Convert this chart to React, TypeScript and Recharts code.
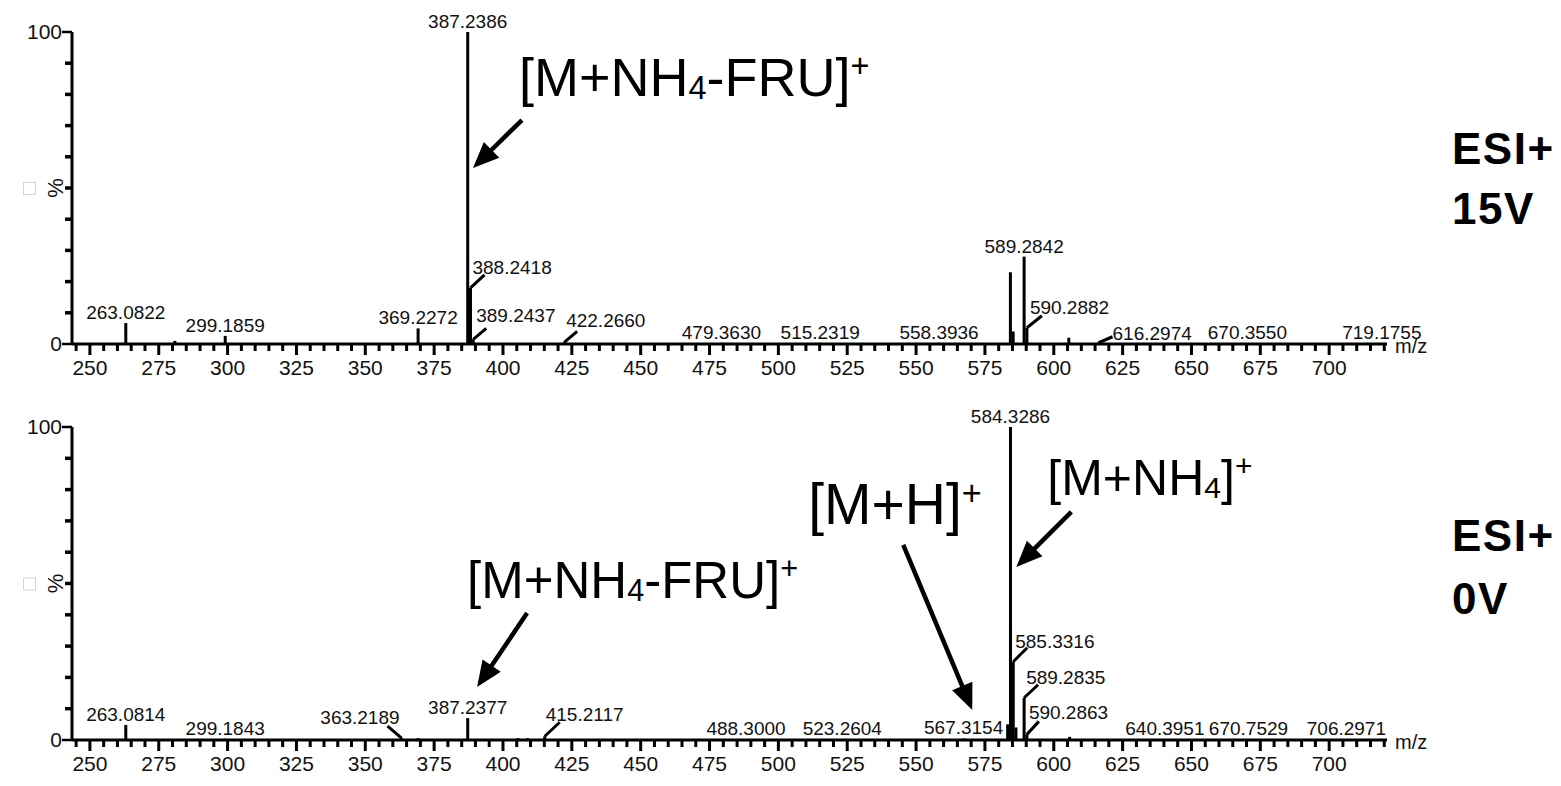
import { ComposedChart, Bar, XAxis, YAxis, LabelList, ReferenceDot } from "recharts";

/* ── shared axis setup ── */
const FONT = '"Liberation Sans", Arial, Helvetica, sans-serif';
const mzDomain = [243.5, 721];
const majorTicks = [250, 275, 300, 325, 350, 375, 400, 425, 450, 475, 500, 525, 550, 575, 600, 625, 650, 675, 700];
const xTicks: number[] = [];
for (let v = 245; v <= 720; v += 5) xTicks.push(v);
const yTicks = [0, 10, 20, 30, 40, 50, 60, 70, 80, 90, 100];
const yLabelled = [0, 100];

/* ── ESI+ 15V spectrum ── */
const mz15V = [263.0822, 280.9, 299.1859, 369.2272, 387.2386, 388.2418, 389.2437, 422.266, 479.363, 515.2319, 558.3936, 584.3, 585.3, 589.2842, 590.2882, 605.5, 616.2974, 670.355, 719.1755];
const int15V = [6.7, 1.0, 2.6, 5.0, 100, 18, 1.5, 0.5, 0.4, 0.4, 0.4, 23, 4, 28, 5.2, 2, 0.4, 0.3, 0.3];
const lbl15V = ["263.0822", "", "299.1859", "369.2272", "387.2386", "388.2418", "389.2437", "422.2660", "479.3630", "515.2319", "558.3936", "", "", "589.2842", "590.2882", "", "616.2974", "670.3550", "719.1755"];

/* ── ESI+ 0V spectrum ── */
const mz0V = [263.0814, 299.1843, 363.2189, 369.2, 387.2377, 405.5, 409.0, 415.2117, 488.3, 523.2604, 567.3154, 583.3, 584.3286, 585.3316, 586.3, 589.2835, 590.2863, 605.8, 640.3951, 670.7529, 706.2971];
const int0V = [4.8, 0.4, 0.6, 0.6, 7.0, 0.6, 0.6, 1.2, 0.3, 0.3, 0.5, 5, 100, 25, 4, 13.5, 1.8, 1.0, 0.3, 0.3, 0.3];
const lbl0V = ["263.0814", "299.1843", "363.2189", "", "387.2377", "", "", "415.2117", "488.3000", "523.2604", "567.3154", "", "584.3286", "585.3316", "", "589.2835", "590.2863", "", "640.3951", "670.7529", "706.2971"];

/* ── annotated ions: [text before sub, subscript, text after sub] ── */
const ions15V = [{ mz: 389.1, pct: 56.4, text: ["[M+NH", "4", "-FRU]"] }];
const ions0V = [
  { mz: 390.6, pct: 16.9, text: ["[M+NH", "4", "-FRU]"] },
  { mz: 570.4, pct: 9.6, text: ["[M+H]", "", ""] },
  { mz: 586.4, pct: 55.3, text: ["[M+NH", "4", "]"] },
];

// leader-line labels: [lineDx, lineDy, textDx, textDy] from peak top
const leaders15V: Record<string, number[]> = {
  "388.2418": [14, 13, 2, 14],
  "389.2437": [13, 11, 3, 17],
  "422.2660": [13, 11, 2, 15],
  "590.2882": [15, 12, 3, 14],
  "616.2974": [14, 6, 14, 3],
};
const leaders0V: Record<string, number[]> = {
  "363.2189": [-14, 12, -2, 14],
  "415.2117": [15, 14, 1, 15],
  "585.3316": [14, 14, 2, 14],
  "589.2835": [14, 13, 2, 14],
  "590.2863": [12, 13, 2, 15],
};
// arrow tail (dx, dy), text origin (dx, dy) relative to arrow tip, text size
const arrows15V = [{ tail: [49, -48], txt: [46, -72], size: 54 }];
const arrows0V = [
  { tail: [50, -74], txt: [-10, -89], size: 51 },
  { tail: [-69, -165], txt: [-164, -186], size: 57 },
  { tail: [55, -55], txt: [31, -72], size: 50 },
];

const build = (mz: number[], pct: number[], lbl: string[]) =>
  mz.map((m, i) => ({ mz: m, pct: pct[i], label: lbl[i] || null }));
const data15V = build(mz15V, int15V, lbl15V);
const data0V = build(mz0V, int0V, lbl0V);

/* eslint-disable @typescript-eslint/no-explicit-any */
function XTick({ x, y, payload }: any) {
  const v = payload.value;
  const major = majorTicks.includes(v);
  return (
    <g>
      <line x1={x} x2={x} y1={y} y2={y + (major ? 11 : 7)} stroke="#000" strokeWidth={3} />
      {major && (
        <text x={x} y={y + 31} textAnchor="middle" fontSize={21} fontFamily={FONT} fill="#111">
          {v}
        </text>
      )}
    </g>
  );
}

function YTick({ x, y, payload }: any) {
  const v = payload.value;
  const end = yLabelled.includes(v);
  return (
    <g>
      <line x1={x - (end ? 10 : 7)} x2={x} y1={y} y2={y} stroke="#000" strokeWidth={end ? 2.5 : 3.5} />
      {end && (
        <text x={x - 10} y={y + 7} textAnchor="end" fontSize={21} fontFamily={FONT} fill="#111">
          {v}
        </text>
      )}
    </g>
  );
}

function Stick(p: any) {
  const cx = p.x + p.width / 2;
  return <rect x={cx - 1.5} y={p.y} width={3} height={Math.max(p.height, 0)} fill="#000" />;
}

const peakLabel = (leaders: Record<string, number[]>) => (props: any) => {
  const value = props.value;
  if (!value) return null;
  const vb = props.viewBox ?? props;
  const cx = vb.x + vb.width / 2;
  const top = vb.y;
  const lead = leaders[value];
  if (lead) {
    const [lx, ly, tx, ty] = lead;
    return (
      <g>
        <line x1={cx} y1={top} x2={cx + lx} y2={top - ly} stroke="#000" strokeWidth={3} />
        <text x={cx + tx} y={top - ty} textAnchor={tx < 0 ? "end" : "start"} fontSize={19} fontFamily={FONT} fill="#111">
          {value}
        </text>
      </g>
    );
  }
  return (
    <text x={cx} y={top - 4} textAnchor="middle" fontSize={19} fontFamily={FONT} fill="#111">
      {value}
    </text>
  );
};

const ionShape = (text: string[], tail: number[], txt: number[], size: number) => (p: any) => {
  const { cx, cy } = p;
  const tx = cx + tail[0];
  const ty = cy + tail[1];
  const len = Math.hypot(tail[0], tail[1]);
  const ux = -tail[0] / len;
  const uy = -tail[1] / len;
  const hl = 26;
  const hw = 11;
  const bx = cx - ux * hl;
  const by = cy - uy * hl;
  const small = size * 0.6;
  return (
    <g>
      <line x1={tx} y1={ty} x2={bx + ux * 2} y2={by + uy * 2} stroke="#000" strokeWidth={4.5} />
      <polygon points={`${cx},${cy} ${bx - uy * hw},${by + ux * hw} ${bx + uy * hw},${by - ux * hw}`} fill="#000" />
      <text x={cx + txt[0]} y={cy + txt[1]} fontSize={size} fontFamily={FONT} fill="#000">
        <tspan>{text[0]}</tspan>
        {text[1] && (
          <tspan fontSize={small} dy={3}>
            {text[1]}
          </tspan>
        )}
        {text[2] && <tspan dy={text[1] ? -3 : 0}>{text[2]}</tspan>}
        <tspan fontSize={small} dy={text[1] && !text[2] ? -22 : -19}>+</tspan>
      </text>
    </g>
  );
};

const percentLabel = (p: any) => {
  const vb = p.viewBox ?? { x: 0, y: 0, width: 72, height: 312 };
  const cy = vb.y + vb.height / 2;
  return (
    <g>
      <rect x={23.5} y={cy - 5.5} width={12} height={12} fill="none" stroke="#d4d4d4" strokeWidth={1} />
      <text x={55} y={cy} transform={`rotate(-90 55 ${cy})`} textAnchor="middle" dominantBaseline="central" fontSize={22} fontFamily={FONT} fill="#111">
        %
      </text>
    </g>
  );
};

const mzLabel = (p: any) => {
  const vb = p.viewBox;
  if (!vb) return null;
  return (
    <text x={vb.x + vb.width + 8} y={vb.y + 9} fontSize={20} fontFamily={FONT} fill="#111">
      m/z
    </text>
  );
};

function Spectrum({
  data,
  leaders,
  ions,
  arrows,
  marginTop,
  marginBottom,
}: {
  data: { mz: number; pct: number; label: string | null }[];
  leaders: Record<string, number[]>;
  ions: { mz: number; pct: number; text: string[] }[];
  arrows: { tail: number[]; txt: number[]; size: number }[];
  marginTop: number;
  marginBottom: number;
}) {
  return (
    <ComposedChart width={1561} height={393} data={data} margin={{ top: marginTop, right: 174, bottom: marginBottom, left: 0 }}>
      <XAxis
        dataKey="mz"
        type="number"
        domain={mzDomain}
        ticks={xTicks}
        interval={0}
        allowDataOverflow
        height={40}
        tickSize={0}
        tickMargin={0}
        tickLine={false}
        tick={<XTick />}
        axisLine={{ stroke: "#000", strokeWidth: 3 }}
        label={{ content: mzLabel }}
      />
      <YAxis
        type="number"
        domain={[0, 100]}
        ticks={yTicks}
        interval={0}
        width={72}
        tickSize={0}
        tickMargin={0}
        tickLine={false}
        tick={<YTick />}
        axisLine={{ stroke: "#000", strokeWidth: 3 }}
        label={{ content: percentLabel }}
      />
      <Bar dataKey="pct" fill="#000" barSize={3} shape={Stick} isAnimationActive={false}>
        <LabelList dataKey="label" content={peakLabel(leaders)} />
      </Bar>
      {ions.map((ion, i) => (
        <ReferenceDot
          key={i}
          x={ion.mz}
          y={ion.pct}
          r={1}
          shape={ionShape(ion.text, arrows[i].tail, arrows[i].txt, arrows[i].size)}
        />
      ))}
    </ComposedChart>
  );
}

export default function App() {
  const side = { fontFamily: FONT, fontWeight: 700, fontSize: 44, fill: "#000", letterSpacing: 1.5 } as const;
  return (
    <div style={{ position: "absolute", left: 0, top: 0, width: 1561, height: 786, background: "#fff", overflow: "hidden" }}>
      <div style={{ position: "absolute", left: 0, top: 0 }}>
        <Spectrum data={data15V} leaders={leaders15V} ions={ions15V} arrows={arrows15V} marginTop={32} marginBottom={9} />
      </div>
      <div style={{ position: "absolute", left: 0, top: 393 }}>
        <Spectrum data={data0V} leaders={leaders0V} ions={ions0V} arrows={arrows0V} marginTop={34} marginBottom={6} />
      </div>
      <svg width={1561} height={786} style={{ position: "absolute", left: 0, top: 0, pointerEvents: "none" }}>
        <text x={1452} y={164} {...side}>ESI+</text>
        <text x={1452} y={224} {...side}>15V</text>
        <text x={1452} y={551} {...side}>ESI+</text>
        <text x={1452} y={614} {...side}>0V</text>
      </svg>
    </div>
  );
}
